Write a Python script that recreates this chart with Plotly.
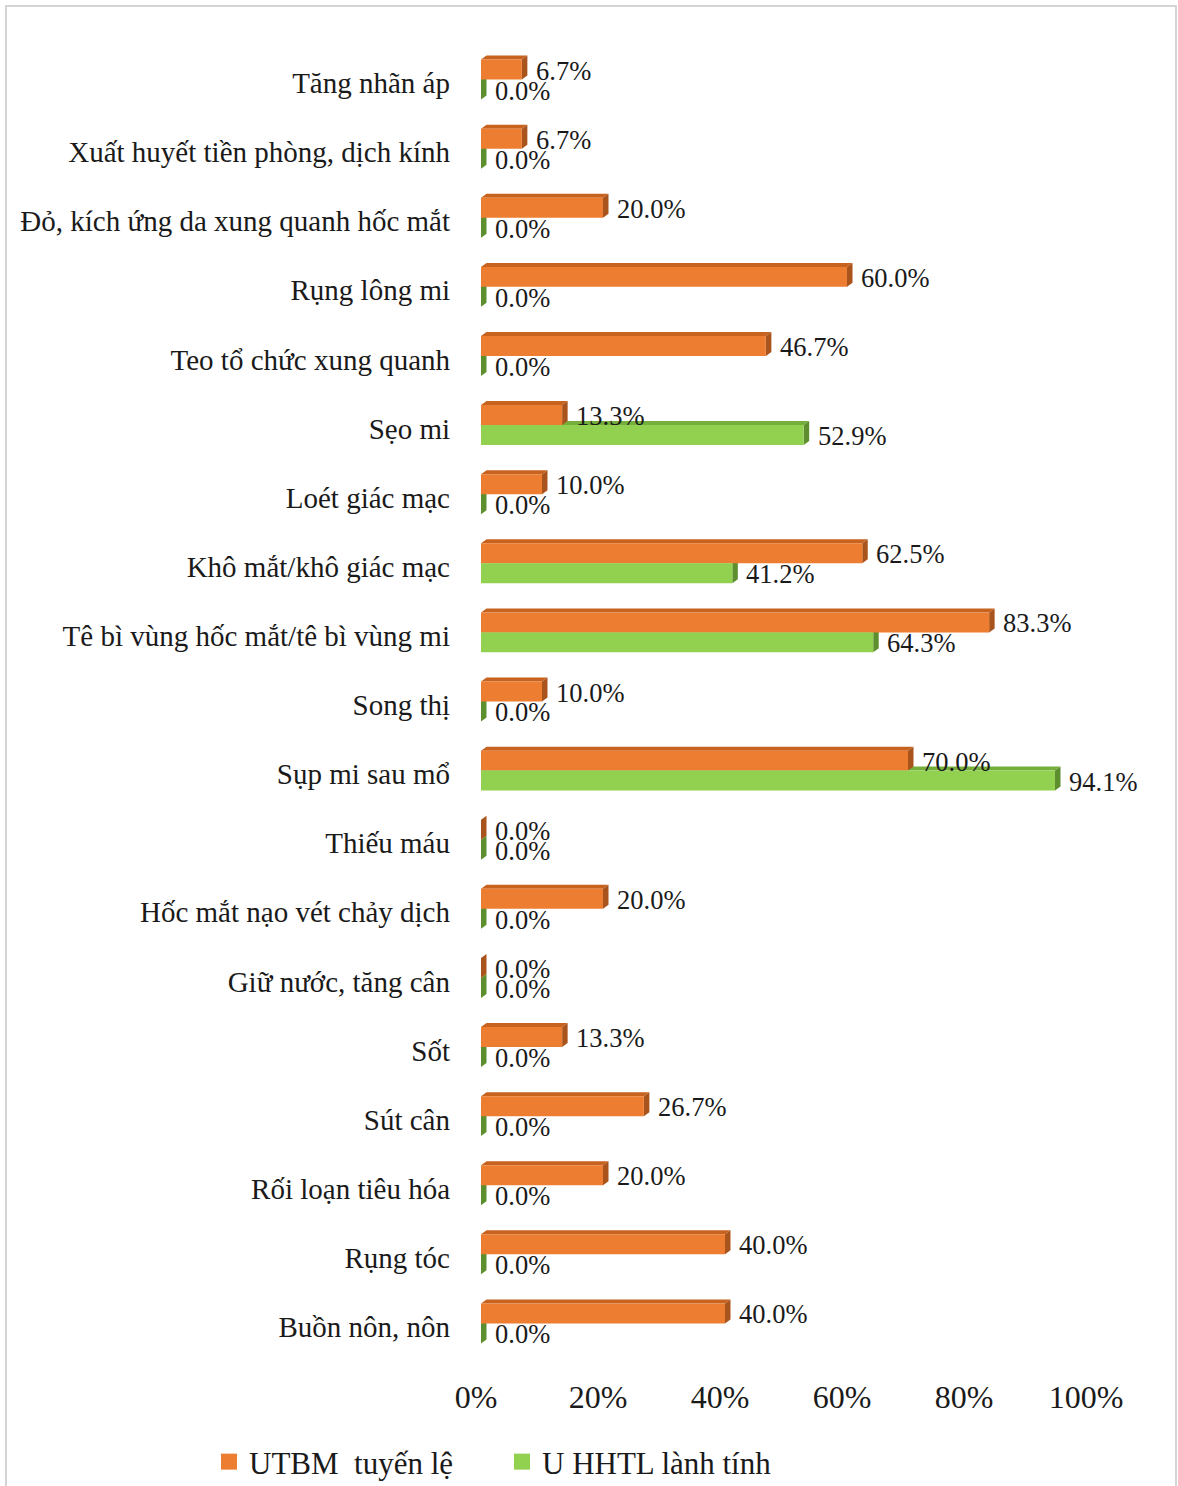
import plotly.graph_objects as go

# Complications by tumour group (percent of patients)
categories = [
    "Tăng nhãn áp",
    "Xuất huyết tiền phòng, dịch kính",
    "Đỏ, kích ứng da xung quanh hốc mắt",
    "Rụng lông mi",
    "Teo tổ chức xung quanh",
    "Sẹo mi",
    "Loét giác mạc",
    "Khô mắt/khô giác mạc",
    "Tê bì vùng hốc mắt/tê bì vùng mi",
    "Song thị",
    "Sụp mi sau mổ",
    "Thiếu máu",
    "Hốc mắt nạo vét chảy dịch",
    "Giữ nước, tăng cân",
    "Sốt",
    "Sút cân",
    "Rối loạn tiêu hóa",
    "Rụng tóc",
    "Buồn nôn, nôn",
]
utbm_values = [6.7, 6.7, 20.0, 60.0, 46.7, 13.3, 10.0, 62.5, 83.3, 10.0,
               70.0, 0.0, 20.0, 0.0, 13.3, 26.7, 20.0, 40.0, 40.0]
uhhtl_values = [0.0, 0.0, 0.0, 0.0, 0.0, 52.9, 0.0, 41.2, 64.3, 0.0,
                94.1, 0.0, 0.0, 0.0, 0.0, 0.0, 0.0, 0.0, 0.0]
series_names = ["UTBM  tuyến lệ", "U HHTL lành tính"]
x_ticks = [0, 20, 40, 60, 80, 100]
x_tick_labels = ["0%", "20%", "40%", "60%", "80%", "100%"]

# Page geometry (pixels)
W, H = 1178, 1486
PLOT_L, PLOT_R = 481, 1091          # x = 0 .. 100
ROW = 69.1                           # height of one category row
PLOT_T = 79.5 - ROW / 2
PLOT_B = PLOT_T + ROW * len(categories)

FONT = "Liberation Serif, Times New Roman, serif"
INK = "#1a1a1a"

front = {"o": "#ED7D31", "g": "#92D050"}
top_face = {"o": "#C8621F", "g": "#76AE3C"}
side_face = {"o": "#A9541C", "g": "#5E8F2E"}

BAR_W = 0.289
OFF = 0.1445
px_per_x = (PLOT_R - PLOT_L) / 100.0
DX = 5.5 / px_per_x                  # 3D depth in x units
DY = 4.0 / ROW                       # 3D depth in y units

n = len(categories)
idx = list(range(n))
y_o = [i - OFF for i in idx]
y_g = [i + OFF for i in idx]

fig = go.Figure()
fig.add_trace(go.Bar(
    name=series_names[0], y=y_o, x=utbm_values, orientation="h",
    width=BAR_W, marker=dict(color=front["o"], line=dict(width=0)),
    showlegend=False, legendgroup="o",
))
fig.add_trace(go.Bar(
    name=series_names[1], y=y_g, x=uhhtl_values, orientation="h",
    width=BAR_W, marker=dict(color=front["g"], line=dict(width=0)),
    showlegend=False, legendgroup="g",
))
# legend keys drawn as larger squares than the default bar swatch
for key, name, leg in (("o", series_names[0], "legend"), ("g", series_names[1], "legend2")):
    fig.add_trace(go.Scatter(
        x=[None], y=[None], mode="markers", name=name, legend=leg,
        legendgroup=key,
        marker=dict(symbol="square", size=16, color=front[key]),
    ))


def poly(pts):
    return "M " + " L ".join(f"{x},{y}" for x, y in pts) + " Z"


shapes = []
# depth faces: green first so the orange front faces cover them
for key, ys, vals in (("g", y_g, uhhtl_values), ("o", y_o, utbm_values)):
    for yc, v in zip(ys, vals):
        yt, yb = yc - BAR_W / 2, yc + BAR_W / 2
        shapes.append(dict(
            type="path", xref="x", yref="y", layer="below",
            path=poly([(0, yt), (v, yt), (v + DX, yt - DY), (DX, yt - DY)]),
            fillcolor=top_face[key], line=dict(width=0),
        ))
        shapes.append(dict(
            type="path", xref="x", yref="y", layer="below",
            path=poly([(v, yb), (v, yt), (v + DX, yt - DY), (v + DX, yb - DY)]),
            fillcolor=side_face[key], line=dict(width=0),
        ))


# outer chart frame
def px_x(p):
    return (p - PLOT_L) / (PLOT_R - PLOT_L)


def px_y(p):
    return (PLOT_B - p) / (PLOT_B - PLOT_T)


shapes.append(dict(
    type="rect", xref="paper", yref="paper",
    x0=px_x(6), x1=px_x(1176), y0=px_y(1490), y1=px_y(6),
    line=dict(color="#d4d4d4", width=2), fillcolor="rgba(0,0,0,0)",
))

annotations = []
for ys, vals in ((y_o, utbm_values), (y_g, uhhtl_values)):
    for yc, v in zip(ys, vals):
        annotations.append(dict(
            x=v, y=yc, xref="x", yref="y", text=f"{v:.1f}%",
            showarrow=False, xanchor="left", yanchor="middle",
            xshift=12, yshift=-1,
            font=dict(family=FONT, size=26.5, color=INK),
        ))

legend_common = dict(
    orientation="h", xref="container", yref="container",
    y=(H - 1462) / H, xanchor="left", yanchor="middle",
    font=dict(family=FONT, size=31, color=INK),
    itemwidth=30, bgcolor="rgba(0,0,0,0)",
)

fig.update_layout(
    width=W, height=H,
    margin=dict(l=PLOT_L, r=W - PLOT_R, t=PLOT_T, b=H - PLOT_B),
    barmode="overlay",
    plot_bgcolor="white", paper_bgcolor="white",
    font=dict(family=FONT, color=INK),
    shapes=shapes, annotations=annotations,
    showlegend=True,
    legend=dict(x=209 / W, **legend_common),
    legend2=dict(x=502 / W, **legend_common),
    xaxis=dict(
        range=[0, 100], tickvals=x_ticks, ticktext=x_tick_labels,
        showgrid=False, zeroline=False, showline=False, ticks="",
        tickfont=dict(family=FONT, size=32, color=INK),
        ticklabelstandoff=17, ticklabelshift=-5,
    ),
    yaxis=dict(
        range=[n - 0.5, -0.5],
        tickvals=[i + 0.05 for i in idx], ticktext=categories,
        showgrid=False, zeroline=False, showline=False, ticks="",
        tickfont=dict(family=FONT, size=29, color=INK),
        ticklabelstandoff=30,
    ),
)

fig.write_html("out.html")
